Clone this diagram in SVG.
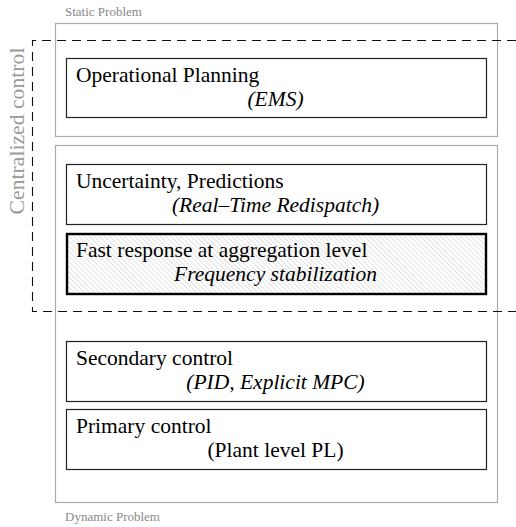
<svg xmlns="http://www.w3.org/2000/svg" width="516" height="527" viewBox="0 0 516 527">
  <defs>
    <pattern id="hatch" patternUnits="userSpaceOnUse" width="3.6" height="3.6" patternTransform="rotate(-45)">
      <rect width="3.6" height="3.6" fill="#ffffff"/>
      <line x1="0" y1="0" x2="0" y2="3.6" stroke="#b8b8b8" stroke-width="0.8"/>
    </pattern>
  </defs>
  <style>
    .frame { fill: #ffffff; stroke: #aaaaaa; stroke-width: 1.2; }
    .box { fill: #ffffff; stroke: #222222; stroke-width: 1.2; }
    .box-strong { fill: url(#hatch); stroke: #000000; stroke-width: 2.4; }
    .dash { fill: none; stroke: #111111; stroke-width: 1.1; stroke-dasharray: 9 6; }
    text { font-family: "Liberation Serif", Tinos, "Times New Roman", "DejaVu Serif", serif; }
    .t { font-size: 21.5px; fill: #000000; }
    .it { font-style: italic; text-anchor: middle; }
    .mid { text-anchor: middle; }
    .caption { font-size: 13px; fill: #888888; }
    .side { font-size: 21.7px; fill: #999999; text-anchor: middle; }
  </style>

  <!-- outer problem frames -->
  <g id="static-frame">
    <rect class="frame" x="55.5" y="23.5" width="442" height="113"/>
    <text class="caption" x="65" y="16">Static Problem</text>
  </g>
  <g id="dynamic-frame">
    <rect class="frame" x="55.5" y="145.5" width="442" height="357"/>
    <text class="caption" x="65" y="520.5">Dynamic Problem</text>
  </g>

  <!-- layer boxes -->
  <g id="operational-planning">
    <rect class="box" x="66.5" y="58.5" width="420" height="59"/>
    <text class="t" x="76" y="82">Operational Planning</text>
    <text class="t it" x="275.5" y="106">(EMS)</text>
  </g>
  <g id="uncertainty">
    <rect class="box" x="66.5" y="164.5" width="420" height="60"/>
    <text class="t" x="76" y="188">Uncertainty, Predictions</text>
    <text class="t it" x="275.5" y="212">(Real–Time Redispatch)</text>
  </g>
  <g id="fast-response">
    <rect class="box-strong" x="67" y="234" width="419" height="60"/>
    <text class="t" x="76" y="257">Fast response at aggregation level</text>
    <text class="t it" x="275.5" y="281">Frequency stabilization</text>
  </g>
  <g id="secondary-control">
    <rect class="box" x="66.5" y="341.5" width="420" height="60"/>
    <text class="t" x="76" y="364.5">Secondary control</text>
    <text class="t it" x="275.5" y="388.5">(PID, Explicit MPC)</text>
  </g>
  <g id="primary-control">
    <rect class="box" x="66.5" y="409.5" width="420" height="60"/>
    <text class="t" x="76" y="433">Primary control</text>
    <text class="t mid" x="275.5" y="457">(Plant level PL)</text>
  </g>

  <!-- centralized control region boundary -->
  <g id="centralized-control">
    <path class="dash" d="M516 40.5 H32.5 V311.5 H516"/>
    <text class="side" transform="translate(24 131) rotate(-90)">Centralized control</text>
  </g>
</svg>
